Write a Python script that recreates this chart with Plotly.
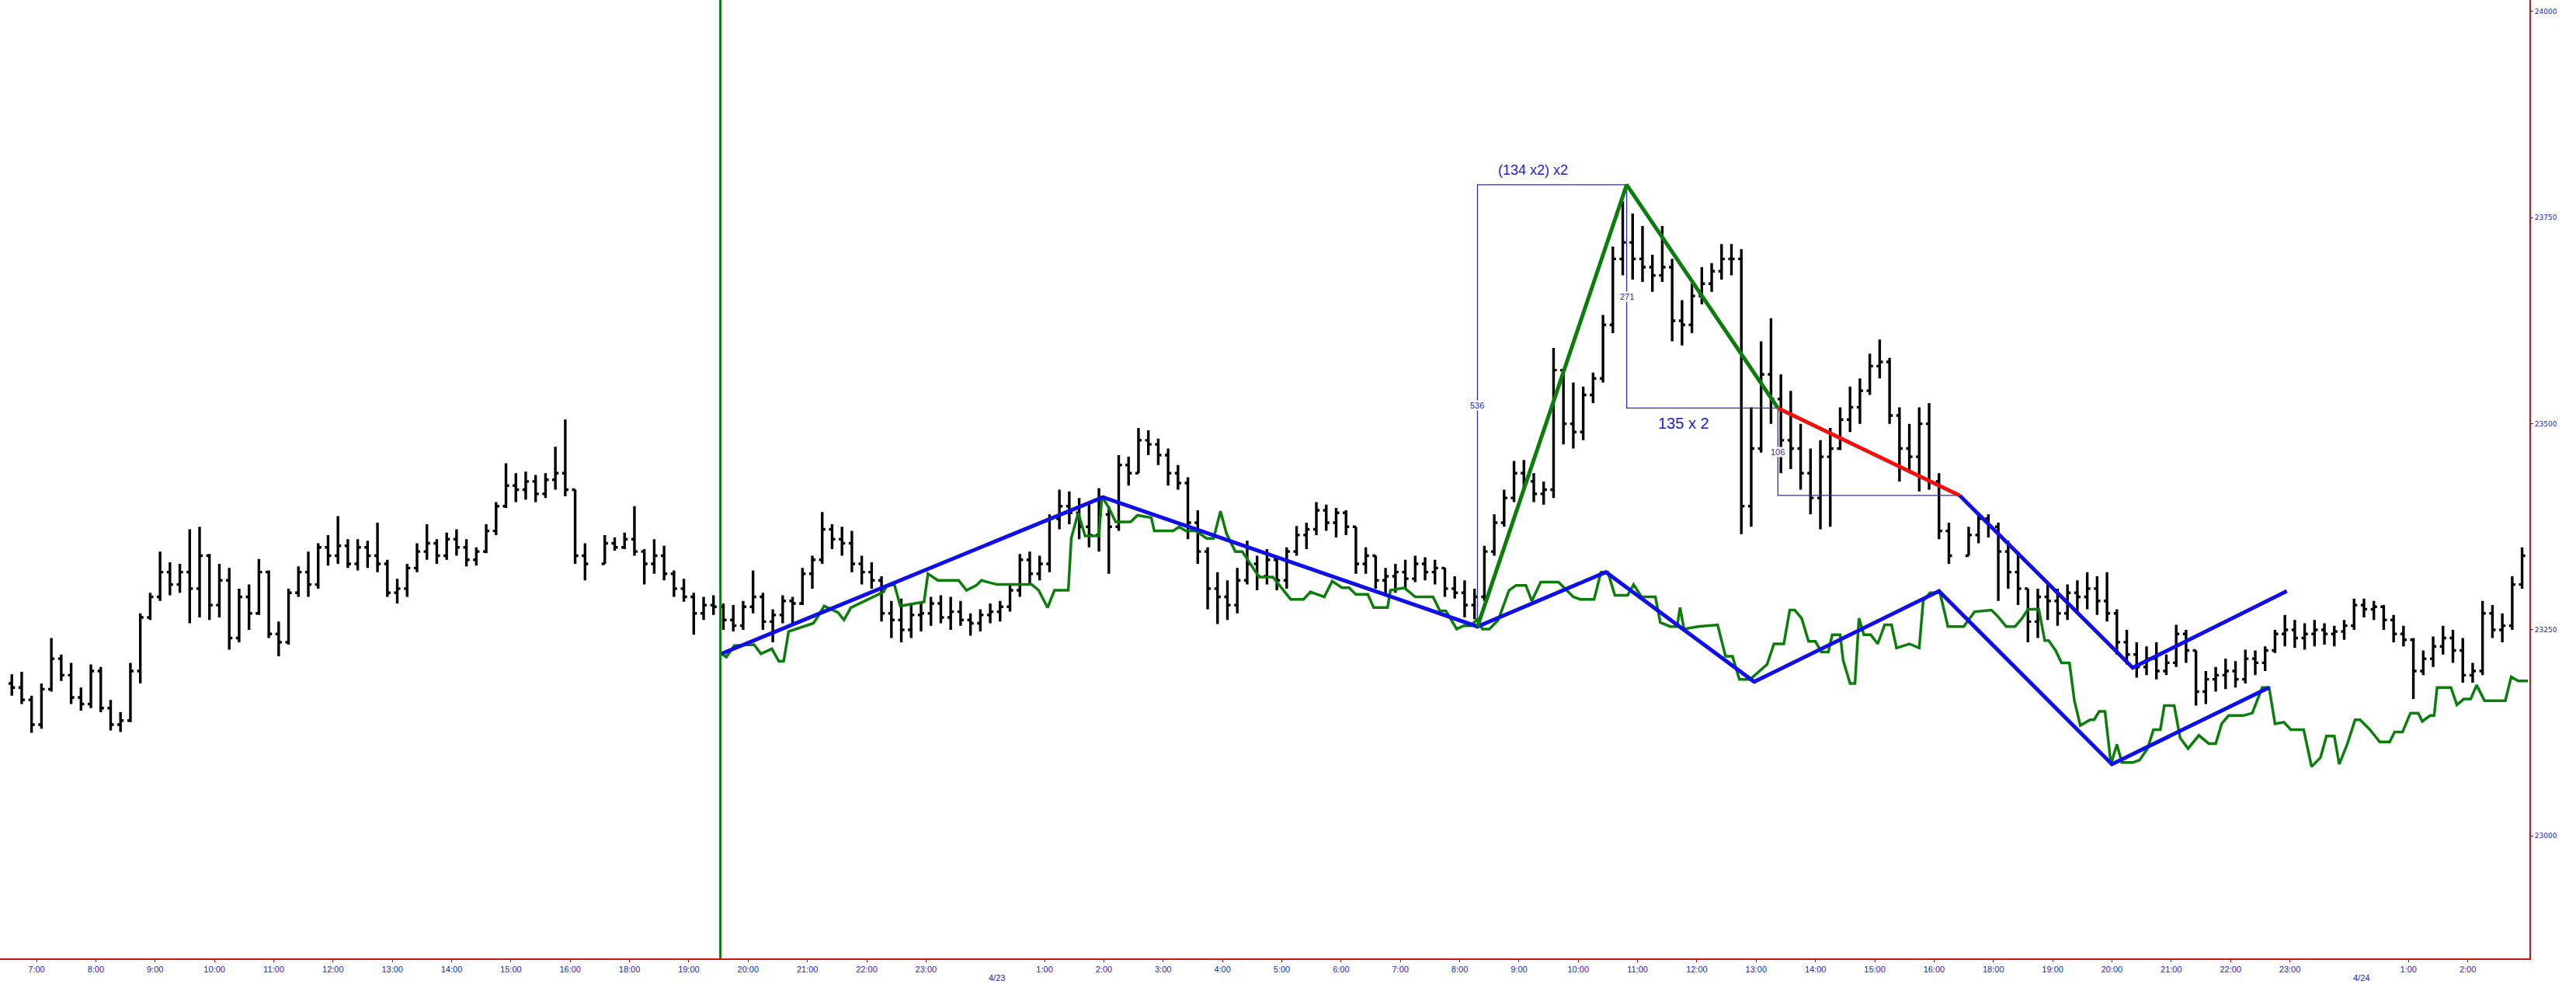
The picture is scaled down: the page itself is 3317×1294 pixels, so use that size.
import datetime as dt
import plotly.graph_objects as go

# ---------------- DATA ----------------
# 10-minute OHLC bars (open = previous close). Three contiguous sessions.
SEG1_START = "04-22 06:30"
SEG1_HIGH = [23196, 23199, 23170,
             23185, 23240, 23220, 23210, 23180, 23208,
             23205, 23165, 23150, 23210, 23270, 23295,
             23345, 23332, 23330, 23372, 23375, 23342,
             23330, 23325, 23300, 23305, 23336, 23322,
             23260, 23300, 23327, 23345, 23355, 23365,
             23388, 23360, 23360, 23358, 23380, 23335,
             23312, 23330, 23355, 23378, 23360, 23368,
             23372, 23360, 23350, 23378, 23405, 23452,
             23440, 23442, 23438, 23440, 23472, 23505,
             23418, 23355]
SEG1_LOW = [23170, 23160, 23125,
            23130, 23175, 23188, 23160, 23152, 23155,
            23150, 23128, 23126, 23138, 23185, 23262,
            23285, 23292, 23295, 23258, 23265, 23262,
            23265, 23226, 23235, 23250, 23268, 23240,
            23218, 23232, 23290, 23290, 23300, 23328,
            23330, 23325, 23322, 23325, 23320, 23290,
            23282, 23290, 23320, 23335, 23330, 23335,
            23340, 23327, 23328, 23343, 23365, 23398,
            23405, 23408, 23405, 23410, 23420, 23412,
            23330, 23310]
SEG1_CLOSE = [23180, 23165, 23135,
              23178, 23215, 23195, 23168, 23160, 23200,
              23155, 23135, 23140, 23200, 23265, 23290,
              23320, 23305, 23320, 23300, 23340, 23280,
              23310, 23240, 23290, 23270, 23320, 23245,
              23235, 23295, 23320, 23305, 23350, 23340,
              23352, 23330, 23350, 23340, 23330, 23295,
              23300, 23325, 23345, 23355, 23340, 23360,
              23350, 23335, 23345, 23370, 23400, 23425,
              23420, 23430, 23415, 23432, 23440, 23420,
              23340, 23330]

SEG2_START = "04-22 16:30"
SEG2_HIGH = [23365, 23362, 23368,
             23400, 23348, 23360, 23352, 23322, 23312,
             23295, 23290, 23292, 23282, 23280, 23285,
             23322, 23295, 23275, 23292, 23290, 23325,
             23340, 23393, 23378, 23375, 23370, 23340,
             23332, 23315, 23285, 23288, 23280, 23282,
             23290, 23292, 23290, 23285, 23270, 23275,
             23282, 23285, 23305, 23342, 23345, 23340,
             23390, 23420, 23418, 23410, 23405, 23422,
             23400, 23462, 23460, 23495, 23492, 23482,
             23470, 23450, 23435, 23395, 23350, 23320,
             23310, 23325, 23358, 23340, 23348, 23340,
             23350, 23376, 23380, 23405, 23402, 23398,
             23395, 23375, 23350, 23340, 23325, 23330,
             23335, 23340, 23338, 23335, 23325, 23315,
             23310, 23300, 23352, 23390, 23420, 23455,
             23456, 23440, 23430, 23592, 23560, 23550,
             23545, 23562, 23632, 23715, 23770, 23755,
             23740, 23705, 23740, 23700, 23650, 23670,
             23690, 23695, 23718, 23718, 23712, 23520,
             23600, 23628, 23560, 23540, 23500, 23470,
             23480, 23495, 23520, 23545, 23555, 23585,
             23602, 23580, 23520, 23500, 23520, 23525,
             23440, 23380]
SEG2_LOW = [23345, 23346, 23348,
            23340, 23305, 23318, 23310, 23290, 23284,
            23244, 23262, 23268, 23250, 23248, 23250,
            23270, 23250, 23235, 23258, 23255, 23280,
            23300, 23330, 23348, 23340, 23320, 23305,
            23300, 23260, 23240, 23235, 23240, 23248,
            23255, 23258, 23250, 23255, 23243, 23248,
            23258, 23260, 23272, 23290, 23305, 23310,
            23320, 23372, 23378, 23360, 23350, 23345,
            23318, 23370, 23425, 23440, 23462, 23450,
            23425, 23420, 23360, 23330, 23275, 23257,
            23262, 23270, 23305, 23298, 23305, 23298,
            23300, 23340, 23348, 23365, 23370, 23362,
            23365, 23318, 23318, 23300, 23292, 23295,
            23300, 23308, 23310, 23305, 23290, 23288,
            23265, 23263, 23285, 23340, 23375, 23405,
            23420, 23405, 23402, 23410, 23475, 23470,
            23480, 23525, 23550, 23610, 23680, 23675,
            23672, 23660, 23672, 23600, 23595, 23610,
            23645, 23660, 23675, 23680, 23366, 23375,
            23465, 23500, 23440, 23445, 23420, 23390,
            23372, 23375, 23468, 23490, 23500, 23535,
            23555, 23500, 23430, 23440, 23418, 23420,
            23360, 23330]
SEG2_CLOSE = [23355, 23350, 23360,
              23345, 23330, 23340, 23318, 23300, 23290,
              23270, 23280, 23278, 23262, 23255, 23278,
              23290, 23260, 23268, 23285, 23282, 23318,
              23335, 23372, 23360, 23355, 23330, 23320,
              23310, 23270, 23262, 23250, 23268, 23270,
              23282, 23265, 23272, 23262, 23258, 23268,
              23272, 23278, 23298, 23335, 23318, 23330,
              23385, 23400, 23392, 23375, 23365, 23390,
              23375, 23450, 23440, 23480, 23475, 23462,
              23440, 23428, 23380, 23345, 23300, 23290,
              23280, 23310, 23330, 23315, 23335, 23310,
              23345, 23365, 23372, 23395, 23380, 23392,
              23375, 23330, 23340, 23310, 23315, 23320,
              23312, 23330, 23320, 23325, 23300, 23295,
              23280, 23290, 23345, 23380, 23410, 23440,
              23430, 23415, 23420, 23565, 23500, 23490,
              23535, 23555, 23620, 23700, 23720, 23700,
              23690, 23680, 23690, 23625, 23620, 23655,
              23670, 23685, 23700, 23700, 23400, 23470,
              23560, 23530, 23480, 23470, 23440, 23410,
              23460, 23470, 23505, 23520, 23540, 23570,
              23575, 23510, 23470, 23460, 23500, 23430,
              23370, 23340]

SEG3_START = "04-23 16:30"
SEG3_HIGH = [23375, 23392, 23390,
             23380, 23358, 23345, 23300, 23300, 23308,
             23300, 23305, 23310, 23320, 23315, 23320,
             23275, 23250, 23235, 23230, 23235, 23220,
             23256, 23250, 23220, 23200, 23205, 23215,
             23212, 23226, 23225, 23230, 23250, 23268,
             23262, 23258, 23262, 23258, 23255, 23262,
             23288, 23288, 23285, 23280, 23268, 23255,
             23240, 23225, 23242, 23255, 23250, 23240,
             23210, 23285, 23280, 23270, 23315, 23350]
SEG3_LOW = [23340, 23355, 23362,
            23285, 23300, 23280, 23235, 23240, 23262,
            23255, 23262, 23270, 23275, 23268, 23260,
            23220, 23208, 23192, 23195, 23190, 23195,
            23205, 23210, 23158, 23160, 23175, 23178,
            23180, 23185, 23195, 23200, 23222, 23230,
            23228, 23226, 23230, 23232, 23230, 23238,
            23250, 23265, 23262, 23250, 23235, 23230,
            23166, 23195, 23205, 23220, 23210, 23186,
            23186, 23195, 23240, 23235, 23250, 23300]
SEG3_CLOSE = [23365, 23385, 23375,
              23345, 23320, 23300, 23260, 23290, 23285,
              23270, 23295, 23290, 23300, 23285, 23270,
              23235, 23220, 23205, 23215, 23200, 23210,
              23245, 23225, 23175, 23190, 23195, 23200,
              23190, 23215, 23210, 23225, 23245, 23250,
              23240, 23245, 23250, 23245, 23248, 23255,
              23280, 23275, 23278, 23262, 23245, 23238,
              23200, 23215, 23230, 23240, 23225, 23195,
              23200, 23270, 23250, 23255, 23305, 23340]
FIRST_OPEN = 23185

# Second instrument (green overlay line)
GREEN_T = ["04-22 19:33", "04-22 19:38", "04-22 19:46", "04-22 20:06", "04-22 20:13", "04-22 20:24",
           "04-22 20:31", "04-22 20:36", "04-22 20:41", "04-22 20:56", "04-22 21:06", "04-22 21:10",
           "04-22 21:17", "04-22 21:31", "04-22 21:37", "04-22 21:44", "04-22 22:02", "04-22 22:17",
           "04-22 22:20", "04-22 22:28", "04-22 22:34", "04-22 22:58", "04-22 23:02", "04-22 23:12",
           "04-22 23:33", "04-22 23:41", "04-22 23:51", "04-22 23:56", "04-23 00:12", "04-23 00:47",
           "04-23 00:54", "04-23 01:03", "04-23 01:10", "04-23 01:24", "04-23 01:27", "04-23 01:34",
           "04-23 01:41", "04-23 01:55", "04-23 01:58", "04-23 02:05", "04-23 02:12", "04-23 02:27",
           "04-23 02:34", "04-23 02:48", "04-23 02:51", "04-23 03:10", "04-23 03:16", "04-23 03:23",
           "04-23 03:33", "04-23 03:44", "04-23 03:51", "04-23 03:58", "04-23 04:04", "04-23 04:13",
           "04-23 04:20", "04-23 04:27", "04-23 04:37", "04-23 04:51", "04-23 05:02", "04-23 05:09",
           "04-23 05:22", "04-23 05:29", "04-23 05:36", "04-23 05:43", "04-23 05:51", "04-23 06:01",
           "04-23 06:08", "04-23 06:15", "04-23 06:27", "04-23 06:33", "04-23 06:47", "04-23 06:50",
           "04-23 07:04", "04-23 07:15", "04-23 07:33", "04-23 07:40", "04-23 07:46", "04-23 07:57",
           "04-23 08:04", "04-23 08:11", "04-23 08:18", "04-23 08:23", "04-23 08:30", "04-23 08:39",
           "04-23 08:50", "04-23 08:57", "04-23 09:07", "04-23 09:13", "04-23 09:22", "04-23 09:40",
           "04-23 09:55", "04-23 10:02", "04-23 10:16", "04-23 10:23", "04-23 10:30", "04-23 10:37",
           "04-23 10:50", "04-23 10:56", "04-23 11:04", "04-23 11:18", "04-23 11:23", "04-23 11:33",
           "04-23 11:40", "04-23 11:43", "04-23 11:47", "04-23 12:01", "04-23 12:21", "04-23 12:29",
           "04-23 12:36", "04-23 12:43", "04-23 12:54", "04-23 13:11", "04-23 13:18", "04-23 13:28",
           "04-23 13:34", "04-23 13:39", "04-23 13:46", "04-23 13:53", "04-23 14:00", "04-23 14:06",
           "04-23 14:13", "04-23 14:17", "04-23 14:25", "04-23 14:28", "04-23 14:35", "04-23 14:40",
           "04-23 14:44", "04-23 14:49", "04-23 14:56", "04-23 15:03", "04-23 15:10", "04-23 15:17",
           "04-23 15:22", "04-23 15:35", "04-23 15:45", "04-23 15:49", "04-23 15:56", "04-23 16:06",
           "04-23 16:14", "04-23 16:30", "04-23 16:41", "04-23 16:58", "04-23 18:04", "04-23 18:13",
           "04-23 18:22", "04-23 18:29", "04-23 18:35", "04-23 18:46", "04-23 18:52", "04-23 18:56",
           "04-23 19:03", "04-23 19:09", "04-23 19:17", "04-23 19:22", "04-23 19:28", "04-23 19:38",
           "04-23 19:42", "04-23 19:47", "04-23 19:53", "04-23 19:59", "04-23 20:05", "04-23 20:10",
           "04-23 20:21", "04-23 20:28", "04-23 20:36", "04-23 20:42", "04-23 20:49", "04-23 20:53",
           "04-23 21:03", "04-23 21:09", "04-23 21:17", "04-23 21:28", "04-23 21:38", "04-23 21:45",
           "04-23 21:51", "04-23 21:58", "04-23 22:13", "04-23 22:22", "04-23 22:32", "04-23 22:39",
           "04-23 22:45", "04-23 22:54", "04-23 23:01", "04-23 23:14", "04-23 23:22", "04-23 23:31",
           "04-23 23:37", "04-23 23:45", "04-23 23:50", "04-23 23:58", "04-24 00:06", "04-24 00:11",
           "04-24 00:21", "04-24 00:31", "04-24 00:41", "04-24 00:46", "04-24 00:54", "04-24 01:02",
           "04-24 01:10", "04-24 01:14", "04-24 01:22", "04-24 01:26", "04-24 01:29", "04-24 01:43",
           "04-24 01:49", "04-24 01:56", "04-24 02:03", "04-24 02:09", "04-24 02:17", "04-24 02:38",
           "04-24 02:44", "04-24 02:51", "04-24 03:01"]
GREEN_V = [23221, 23217, 23231, 23232, 23221, 23227,
           23212, 23212, 23248, 23254, 23258, 23265,
           23279, 23271, 23262, 23277, 23287, 23296,
           23303, 23305, 23279, 23284, 23318, 23310,
           23310, 23298, 23304, 23310, 23305, 23305,
           23298, 23277, 23298, 23298, 23361, 23392,
           23364, 23364, 23412, 23398, 23381, 23381,
           23389, 23386, 23370, 23370, 23375, 23370,
           23370, 23361, 23361, 23394, 23367, 23345,
           23345, 23332, 23314, 23314, 23298, 23287,
           23287, 23296, 23293, 23290, 23309, 23301,
           23301, 23293, 23293, 23277, 23277, 23298,
           23301, 23290, 23290, 23273, 23273, 23251,
           23255, 23255, 23263, 23251, 23251, 23262,
           23298, 23304, 23304, 23285, 23308, 23308,
           23290, 23287, 23287, 23320, 23320, 23292,
           23292, 23305, 23290, 23290, 23259, 23254,
           23254, 23277, 23251, 23254, 23256, 23218,
           23218, 23190, 23190, 23208, 23233, 23233,
           23274, 23274, 23264, 23236, 23236, 23223,
           23223, 23244, 23244, 23213, 23185, 23185,
           23264, 23244, 23244, 23233, 23256, 23256,
           23228, 23233, 23228, 23285, 23295, 23295,
           23254, 23254, 23272, 23274, 23267, 23254,
           23254, 23264, 23275, 23275, 23237, 23237,
           23225, 23210, 23210, 23164, 23134, 23141,
           23141, 23151, 23151, 23087, 23111, 23089,
           23089, 23092, 23106, 23129, 23129, 23158,
           23158, 23119, 23106, 23122, 23112, 23112,
           23136, 23146, 23146, 23149, 23180, 23180,
           23136, 23138, 23129, 23129, 23084, 23095,
           23121, 23121, 23087, 23111, 23141, 23141,
           23129, 23114, 23114, 23126, 23126, 23149,
           23149, 23139, 23146, 23146, 23180, 23180,
           23159, 23166, 23166, 23183, 23164, 23164,
           23193, 23188, 23188]

# Swing lines
LOW_ZZ_T = ["04-22 19:33", "04-23 01:59", "04-23 08:18", "04-23 10:28",
            "04-23 12:58", "04-23 16:05", "04-23 20:00", "04-23 22:39"]
LOW_ZZ_V = [23221, 23411, 23254, 23320, 23187, 23297, 23087, 23180]
GREEN_ZZ_T = ["04-23 08:18", "04-23 10:49", "04-23 13:22"]
GREEN_ZZ_V = [23254, 23790, 23519]
RED_T = ["04-23 13:22", "04-23 16:26"]
RED_V = [23519, 23413]
UP_ZZ_T = ["04-23 16:26", "04-23 20:21", "04-23 22:57"]
UP_ZZ_V = [23413, 23204, 23297]
MARKER_TIME = "04-22 19:32"

# Measurement labels
BIG_LABEL_1 = "(134 x2) x2"
BIG_LABEL_1_T = "04-23 08:37"
BIG_LABEL_2 = "135 x 2"
BIG_LABEL_2_T = "04-23 11:47"
SMALL_LABELS = ["536", "271", "106"]

# Axis ticks
TICK_TIMES = ["04-22 07:00", "04-22 08:00", "04-22 09:00", "04-22 10:00", "04-22 11:00",
              "04-22 12:00", "04-22 13:00", "04-22 14:00", "04-22 15:00", "04-22 16:00",
              "04-22 18:00", "04-22 19:00", "04-22 20:00", "04-22 21:00", "04-22 22:00",
              "04-22 23:00", "04-23 01:00", "04-23 02:00", "04-23 03:00", "04-23 04:00",
              "04-23 05:00", "04-23 06:00", "04-23 07:00", "04-23 08:00", "04-23 09:00",
              "04-23 10:00", "04-23 11:00", "04-23 12:00", "04-23 13:00", "04-23 14:00",
              "04-23 15:00", "04-23 16:00", "04-23 18:00", "04-23 19:00", "04-23 20:00",
              "04-23 21:00", "04-23 22:00", "04-23 23:00", "04-24 01:00", "04-24 02:00"]
DATE_LABELS = ["4/23", "4/24"]
DATE_TIMES = ["04-23 00:00", "04-24 00:00"]
Y_TICKS = [23000, 23250, 23500, 23750, 24000]

# ---------------- helpers ----------------
BASE = dt.datetime(2025, 4, 22, 7, 0)
BREAKS = [dt.datetime(2025, 4, 22, 17, 0), dt.datetime(2025, 4, 23, 17, 0)]


def to_x(s):
    d = dt.datetime.strptime("2025-" + s, "%Y-%m-%d %H:%M")
    h = (d - BASE).total_seconds() / 3600.0
    for b in BREAKS:
        if d >= b + dt.timedelta(hours=1):
            h -= 1.0
        elif d > b:
            h -= (d - b).total_seconds() / 3600.0
    return h


def xs(times):
    return [to_x(t) for t in times]


bx, bo, bh, bl, bc = [], [], [], [], []
prev = FIRST_OPEN
for start, H, L, C in [(SEG1_START, SEG1_HIGH, SEG1_LOW, SEG1_CLOSE),
                       (SEG2_START, SEG2_HIGH, SEG2_LOW, SEG2_CLOSE),
                       (SEG3_START, SEG3_HIGH, SEG3_LOW, SEG3_CLOSE)]:
    x0 = to_x(start)
    for i in range(len(C)):
        o = prev
        bx.append(x0 + i / 6.0 + 1 / 12.0)
        bo.append(o)
        bh.append(max(H[i], o, C[i]))
        bl.append(min(L[i], o, C[i]))
        bc.append(C[i])
        prev = C[i]

BLUE = "#1010e6"
GREEN = "#0b7d0b"
THIN = "#2a2acc"
TXT = "#2222cc"

fig = go.Figure()

# thin measurement lines
lo, pk, rs = GREEN_ZZ_V
re_ = RED_V[1]
x_lo, x_pk, x_rs = xs(GREEN_ZZ_T)
x_re = to_x(RED_T[1])
thin = [
    ([x_lo, x_lo, x_pk], [lo, pk, pk]),
    ([x_pk, x_pk, x_rs], [pk, rs, rs]),
    ([x_rs, x_rs, x_re], [rs, re_, re_]),
]
for tx, ty in thin:
    fig.add_trace(go.Scatter(x=tx, y=ty, mode="lines", line=dict(color=THIN, width=1.3),
                             hoverinfo="skip"))

fig.add_trace(go.Ohlc(x=bx, open=bo, high=bh, low=bl, close=bc,
                      increasing=dict(line=dict(color="black", width=3.4)),
                      decreasing=dict(line=dict(color="black", width=3.4)),
                      tickwidth=0.32, hoverinfo="skip"))

fig.add_trace(go.Scatter(x=xs(GREEN_T), y=GREEN_V, mode="lines",
                         line=dict(color=GREEN, width=3.5), hoverinfo="skip"))
fig.add_trace(go.Scatter(x=xs(LOW_ZZ_T), y=LOW_ZZ_V, mode="lines",
                         line=dict(color=BLUE, width=5), hoverinfo="skip"))
fig.add_trace(go.Scatter(x=xs(GREEN_ZZ_T), y=GREEN_ZZ_V, mode="lines",
                         line=dict(color=GREEN, width=5), hoverinfo="skip"))
fig.add_trace(go.Scatter(x=xs(RED_T), y=RED_V, mode="lines",
                         line=dict(color="#ee1111", width=5), hoverinfo="skip"))
fig.add_trace(go.Scatter(x=xs(UP_ZZ_T), y=UP_ZZ_V, mode="lines",
                         line=dict(color=BLUE, width=5), hoverinfo="skip"))

mx = to_x(MARKER_TIME)
fig.add_shape(type="line", xref="x", yref="paper", x0=mx, x1=mx, y0=0, y1=1,
              line=dict(color=GREEN, width=3), layer="above")

# labels
fig.add_annotation(x=to_x(BIG_LABEL_1_T), y=pk, yshift=19, text=BIG_LABEL_1, showarrow=False,
                   xanchor="left", yanchor="middle",
                   font=dict(family="Liberation Sans, Arial", size=18, color=TXT))
fig.add_annotation(x=to_x(BIG_LABEL_2_T), y=rs, yshift=-20, text=BIG_LABEL_2, showarrow=False,
                   xanchor="center", yanchor="middle",
                   font=dict(family="Liberation Sans, Arial", size=20, color=TXT))
small_pos = [(x_lo, (lo + pk) / 2), (x_pk, (pk + rs) / 2), (x_rs, (rs + re_) / 2)]
for txt, (sx, sy) in zip(SMALL_LABELS, small_pos):
    fig.add_annotation(x=sx, y=sy, text=txt, showarrow=False, bgcolor="white", borderpad=0,
                       xanchor="center", yanchor="middle",
                       font=dict(family="Liberation Sans, Arial", size=11, color=TXT))
for dl, dtm in zip(DATE_LABELS, DATE_TIMES):
    fig.add_annotation(x=to_x(dtm) + 0.2, y=-0.0205, xref="x", yref="paper", text=dl,
                       showarrow=False, xanchor="center", yanchor="middle",
                       font=dict(family="Liberation Sans, Arial", size=11, color=TXT))

tick_text = [t.split(" ")[1].lstrip("0") for t in TICK_TIMES]
tick_text = [("0" + s if s.startswith(":") else s) for s in tick_text]

fig.update_layout(
    width=3317, height=1294,
    margin=dict(l=0, r=60, t=0, b=60),
    paper_bgcolor="white", plot_bgcolor="white",
    showlegend=False,
    xaxis=dict(range=[-0.616, 42.04], showgrid=False, zeroline=False,
               showline=True, linecolor="#cc1111", linewidth=2,
               ticks="outside", ticklen=3, tickcolor="#cc1111",
               tickvals=xs(TICK_TIMES), ticktext=tick_text,
               tickfont=dict(family="Liberation Sans, Arial", size=11, color=TXT),
               rangeslider=dict(visible=False), fixedrange=True),
    yaxis=dict(range=[22851.4, 24014.1], side="right", showgrid=False, zeroline=False,
               showline=True, linecolor="#cc1111", linewidth=2,
               ticks="outside", ticklen=3, tickcolor=TXT,
               tickvals=Y_TICKS, ticktext=[str(v) for v in Y_TICKS],
               tickfont=dict(family="DejaVu Sans", size=9, color=TXT)),
)

fig.write_html("out.html", config={"displayModeBar": False},
               post_script="document.body.style.margin='0';document.body.style.padding='0';")
